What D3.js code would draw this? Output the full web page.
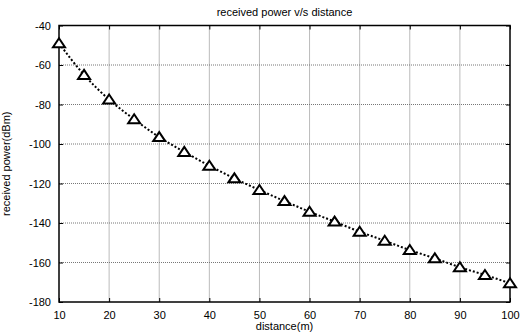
<!DOCTYPE html>
<html>
<head>
<meta charset="utf-8">
<script src="https://cdn.jsdelivr.net/npm/d3@7"></script>
<style>
  body { margin: 0; background: #fff; }
  text { font-family: "Liberation Sans", Arial, sans-serif; }
</style>
</head>
<body>
<svg class="plot" width="520" height="333"></svg>
<script>
// distance (m) and received power (dBm)
var distance = [10, 15, 20, 25, 30, 35, 40, 45, 50, 55, 60, 65, 70, 75, 80, 85, 90, 95, 100];
var power = [-49, -65, -77.5, -87.5, -96.5, -104, -111, -117.4, -123.3, -128.9, -134.3, -139.3,
             -144.4, -149, -153.7, -157.9, -162.4, -166.3, -170.5];
var xTicks = [10, 20, 30, 40, 50, 60, 70, 80, 90, 100];
var yTicks = [-40, -60, -80, -100, -120, -140, -160, -180];

var svg = d3.select(".plot"),
    margin = {top: 25.5, right: 10, bottom: 31, left: 59},
    width = +svg.attr("width") - margin.left - margin.right,
    height = +svg.attr("height") - margin.top - margin.bottom;

var x = d3.scaleLinear().domain([10, 100]).range([0, width]),
    y = d3.scaleLinear().domain([-180, -40]).range([height, 0]);

var g = svg.append("g")
    .attr("transform", "translate(" + margin.left + "," + margin.top + ")");

//grid
g.selectAll(".gx").data(xTicks.slice(1, -1)).enter().append("line")
    .attr("x1", function(d) { return x(d); }).attr("x2", function(d) { return x(d); })
    .attr("y1", 0).attr("y2", height)
    .style("stroke", "#777").style("stroke-width", 1).style("stroke-dasharray", "1,1");
g.selectAll(".gy").data(yTicks.slice(1, -1)).enter().append("line")
    .attr("y1", function(d) { return y(d); }).attr("y2", function(d) { return y(d); })
    .attr("x1", 0).attr("x2", width)
    .style("stroke", "#777").style("stroke-width", 1).style("stroke-dasharray", "1,1");

//axes with inward ticks
function styleAxis(sel) {
  sel.select(".domain").remove();
  sel.selectAll("line").style("stroke", "#000");
  sel.selectAll("text").style("font-size", "11px").style("fill", "#000");
}
var fmt = function(d) { return String(d); };
g.append("g").attr("transform", "translate(0," + height + ")")
    .call(d3.axisBottom(x).tickValues(xTicks).tickSizeInner(-4).tickPadding(9).tickFormat(fmt))
    .call(styleAxis);
g.append("g")
    .call(d3.axisLeft(y).tickValues(yTicks).tickSizeInner(-4).tickPadding(8).tickFormat(fmt))
    .call(styleAxis);
g.append("g")
    .call(d3.axisTop(x).tickValues(xTicks).tickSizeInner(-4).tickFormat(""))
    .call(styleAxis);
g.append("g").attr("transform", "translate(" + width + ",0)")
    .call(d3.axisRight(y).tickValues(yTicks).tickSizeInner(-4).tickFormat(""))
    .call(styleAxis);

//box
g.append("rect")
    .attr("width", width).attr("height", height)
    .style("fill", "none").style("stroke", "#000").style("stroke-width", 1.5);

//curve
var line = d3.line()
    .x(function(d, i) { return x(distance[i]); })
    .y(function(d) { return y(d); })
    .curve(d3.curveMonotoneX);

g.append("path").datum(power)
    .attr("d", line)
    .style("fill", "none").style("stroke", "#000")
    .style("stroke-width", 2).style("stroke-dasharray", "2,2");

g.selectAll(".mark").data(power).enter().append("path")
    .attr("class", "mark")
    .attr("transform", function(d, i) { return "translate(" + x(distance[i]) + "," + y(d) + ")"; })
    .attr("d", "M0,-5L6,4L-6,4Z")
    .style("fill", "#fff").style("stroke", "#000").style("stroke-width", 2);

//titles
g.append("text")
    .attr("x", width / 2).attr("y", -10)
    .style("font-size", "11px").style("text-anchor", "middle")
    .text("received power v/s distance");

g.append("text")
    .attr("x", width / 2).attr("y", height + 28)
    .style("font-size", "11px").style("text-anchor", "middle")
    .text("distance(m)");

g.append("text")
    .attr("transform", "rotate(-90)")
    .attr("x", -height / 2).attr("y", -49)
    .style("font-size", "11px").style("text-anchor", "middle")
    .text("received power(dBm)");
</script>
</body>
</html>
